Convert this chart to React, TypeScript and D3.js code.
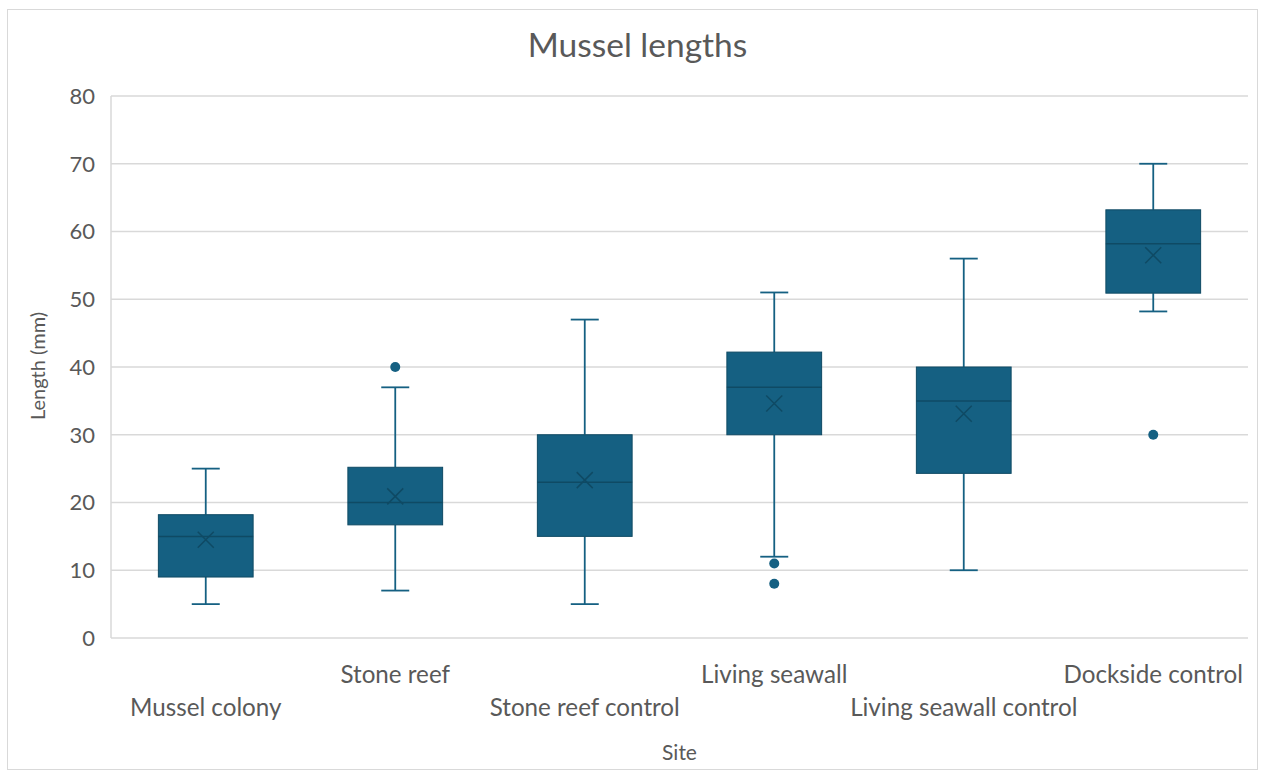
import React from "react";
import * as d3 from "d3";

const categories = [
  "Mussel colony",
  "Stone reef",
  "Stone reef control",
  "Living seawall",
  "Living seawall control",
  "Dockside control",
];
const whiskerLow = [5, 7, 5, 12, 10, 48.2];
const q1 = [9, 16.7, 15, 30, 24.3, 50.9];
const medians = [15, 20, 23, 37, 35, 58.2];
const q3 = [18.2, 25.2, 30, 42.2, 40, 63.2];
const whiskerHigh = [25, 37, 47, 51, 56, 70];
const means = [14.5, 20.9, 23.3, 34.6, 33.1, 56.5];
const outliers: number[][] = [[], [40], [], [11, 8], [], [30]];
const yTicks = [0, 10, 20, 30, 40, 50, 60, 70, 80];

const W = 1265;
const H = 775;
const plot = { left: 111, right: 1248, top: 96, bottom: 638 };
const FILL = "#156082";
const DARK = "#0f4a64";
const FONT = "Lato, 'Open Sans', sans-serif";
const TEXT = "#595959";

export default function App() {
  const x = d3
    .scaleBand<string>()
    .domain(categories)
    .range([plot.left, plot.right])
    .paddingInner(0.5)
    .paddingOuter(0.25);
  const y = d3.scaleLinear().domain([0, 80]).range([plot.bottom, plot.top]);
  const bw = x.bandwidth();
  const cap = 28;
  const m = 8;

  return (
    <svg
      width={W}
      height={H}
      style={{ position: "absolute", left: 0, top: 0, background: "#fff" }}
      fontFamily={FONT}
    >
      <rect x={7.5} y={9.5} width={1250} height={760} fill="#fff" stroke="#d9d9d9" />
      <text x={637.5} y={57} textAnchor="middle" fontSize={33.5} fill={TEXT}>
        Mussel lengths
      </text>
      {yTicks.map((t) => (
        <g key={t}>
          {t > 0 && (
            <line x1={plot.left} x2={plot.right} y1={y(t)} y2={y(t)} stroke="#d9d9d9" strokeWidth={1.5} />
          )}
          <text x={95} y={y(t)} dy="0.36em" textAnchor="end" fontSize={22} fill={TEXT}>
            {t}
          </text>
        </g>
      ))}
      <line x1={plot.left} x2={plot.left} y1={plot.top} y2={plot.bottom} stroke="#d9d9d9" strokeWidth={1.5} />
      <line x1={plot.left} x2={plot.right} y1={plot.bottom} y2={plot.bottom} stroke="#d9d9d9" strokeWidth={1.5} />
      {categories.map((c, i) => {
        const x0 = x(c)!;
        const cx = x0 + bw / 2;
        return (
          <g key={c}>
            <line x1={cx} x2={cx} y1={y(q3[i])} y2={y(whiskerHigh[i])} stroke={FILL} strokeWidth={1.8} />
            <line x1={cx} x2={cx} y1={y(q1[i])} y2={y(whiskerLow[i])} stroke={FILL} strokeWidth={1.8} />
            <line x1={cx - cap / 2} x2={cx + cap / 2} y1={y(whiskerHigh[i])} y2={y(whiskerHigh[i])} stroke={FILL} strokeWidth={1.8} />
            <line x1={cx - cap / 2} x2={cx + cap / 2} y1={y(whiskerLow[i])} y2={y(whiskerLow[i])} stroke={FILL} strokeWidth={1.8} />
            <rect
              x={x0}
              y={y(q3[i])}
              width={bw}
              height={y(q1[i]) - y(q3[i])}
              fill={FILL}
              stroke={DARK}
              strokeWidth={1}
            />
            <line x1={x0} x2={x0 + bw} y1={y(medians[i])} y2={y(medians[i])} stroke={DARK} strokeWidth={1.5} />
            <path
              d={`M${cx - m},${y(means[i]) - m}L${cx + m},${y(means[i]) + m}M${cx - m},${y(means[i]) + m}L${cx + m},${y(means[i]) - m}`}
              stroke={DARK}
              strokeWidth={1.5}
            />
            {outliers[i].map((o, j) => (
              <circle key={j} cx={cx} cy={y(o)} r={5} fill={FILL} />
            ))}
            <text
              x={cx}
              y={i % 2 === 1 ? 683 : 716}
              textAnchor="middle"
              fontSize={24.2}
              fill={TEXT}
            >
              {c}
            </text>
          </g>
        );
      })}
      <text
        transform={`translate(45,366) rotate(-90)`}
        textAnchor="middle"
        fontSize={20}
        fill={TEXT}
      >
        Length (mm)
      </text>
      <text x={(plot.left + plot.right) / 2} y={760} textAnchor="middle" fontSize={21} fill={TEXT}>
        Site
      </text>
    </svg>
  );
}
